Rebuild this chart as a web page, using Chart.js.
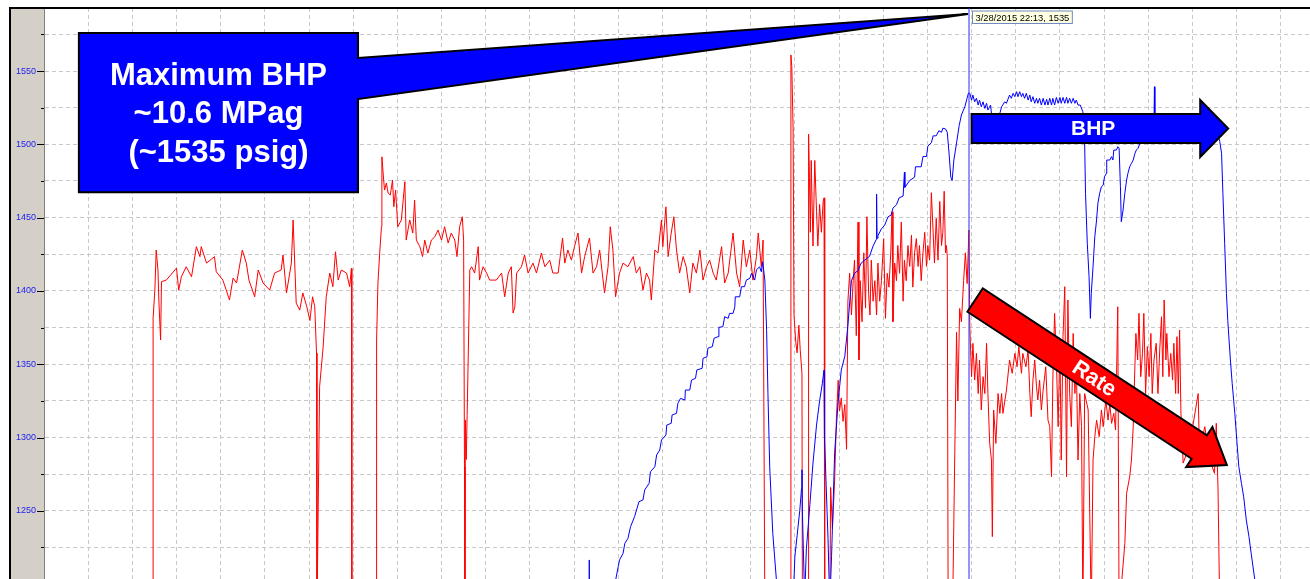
<!DOCTYPE html>
<html><head><meta charset="utf-8">
<script src="https://cdn.jsdelivr.net/npm/chart.js@4.4.0/dist/chart.umd.min.js"></script>
<style>html,body{margin:0;padding:0;background:#fff;overflow:hidden}canvas{display:block}</style>
</head><body>
<canvas id="c" width="1310" height="579"></canvas>
<script>
// ---- data (time in grid units, values in psig) ----
const yTickValues = [1225,1250,1275,1300,1325,1350,1375,1400,1425,1450,1475,1500,1525,1550,1575];
const xGridValues = [0,1,2,3,4,5,6,7,8,9,10,11,12,13,14,15,16,17,18,19,20,21,22,23,24,25,26,27,28];
const cursorTime = 20.935;
const cursorLabel = '3/28/2015 22:13, 1535';
const calloutLines = ['Maximum BHP', '~10.6 MPag', '(~1535 psig)'];
const bhpLabel = 'BHP';
const rateLabel = 'Rate';

const ratePoints = [
[2.47,1180],[2.47,1381.5],[2.51,1400.6],[2.54,1427.9],[2.58,1414.3],[2.60,1393.8],[2.64,1366.5],[2.66,1406.3],[2.77,1407.4],[3.00,1415.6],[3.05,1400.6],[3.11,1409.7],[3.22,1416.5],[3.34,1409.7],[3.45,1430.2],[3.53,1423.4],[3.56,1430.2],[3.68,1419.0],[3.86,1423.4],[3.90,1413.1],[4.05,1407.4],[4.20,1393.8],[4.28,1408.8],[4.36,1405.4],[4.49,1427.9],[4.58,1419.0],[4.64,1407.4],[4.77,1396.0],[4.85,1414.3],[4.96,1405.4],[5.11,1400.6],[5.22,1412.2],[5.37,1414.3],[5.41,1424.5],[5.49,1398.6],[5.60,1419.0],[5.64,1448.4],[5.71,1391.7],[5.79,1386.9],[5.86,1398.6],[5.95,1389.2],[6.02,1379.8],[6.08,1396.0],[6.13,1389.2],[6.17,1357.6],[6.18,1180],[6.24,1334.7],[6.32,1361.9],[6.39,1396.0],[6.47,1412.2],[6.54,1402.9],[6.60,1426.7],[6.66,1407.4],[6.73,1414.3],[6.85,1412.2],[6.92,1402.9],[6.96,1415.4],[6.97,1180],
[7.53,1180],[7.53,1366.5],[7.56,1405.4],[7.60,1425.8],[7.64,1443.8],[7.65,1491.5],[7.69,1475.6],[7.71,1468.8],[7.75,1473.6],[7.79,1466.8],[7.84,1465.4],[7.89,1475.6],[7.92,1457.4],[7.96,1468.8],[8.01,1443.8],[8.09,1448.4],[8.17,1474.5],[8.20,1434.7],[8.28,1448.4],[8.35,1439.5],[8.39,1462.0],[8.43,1434.7],[8.51,1430.2],[8.57,1423.4],[8.62,1434.7],[8.69,1425.8],[8.77,1434.7],[8.85,1437.0],[8.92,1441.5],[9.00,1434.7],[9.07,1443.8],[9.15,1432.7],[9.22,1439.5],[9.30,1434.7],[9.35,1423.4],[9.41,1443.8],[9.47,1450.6],[9.50,1434.7],[9.52,1280],[9.53,1180],[9.54,1312],[9.56,1285],[9.58,1315],
[9.64,1414.3],[9.68,1416.5],[9.75,1412.2],[9.83,1430.2],[9.86,1407.4],[9.94,1416.5],[10.02,1412.2],[10.09,1407.4],[10.24,1407.4],[10.36,1412.2],[10.43,1396.0],[10.51,1412.2],[10.58,1416.5],[10.62,1384.9],[10.66,1389.2],[10.70,1412.2],[10.81,1416.5],[10.88,1424.5],[10.96,1412.2],[11.07,1419.0],[11.15,1412.2],[11.26,1425.8],[11.34,1416.5],[11.45,1421.0],[11.52,1412.2],[11.64,1412.2],[11.74,1436.1],[11.79,1419.0],[11.86,1427.9],[11.94,1421.0],[12.01,1430.2],[12.09,1439.5],[12.17,1412.2],[12.24,1423.4],[12.35,1436.1],[12.43,1412.2],[12.51,1416.5],[12.58,1427.9],[12.69,1398.6],[12.77,1416.5],[12.82,1443.8],[12.88,1427.9],[12.94,1396.0],[13.03,1412.2],[13.11,1419.0],[13.22,1416.5],[13.34,1423.4],[13.41,1412.2],[13.49,1416.5],[13.56,1400.6],[13.64,1412.2],[13.71,1407.4],[13.75,1393.8],[13.83,1427.9],[13.90,1425.8],[13.98,1448.4],[14.01,1430.2],[14.08,1457.4],[14.13,1423.4],[14.20,1439.5],[14.26,1450.6],[14.32,1427.9],[14.39,1412.2],[14.47,1423.4],[14.54,1416.5],[14.62,1398.6],[14.69,1419.0],[14.77,1412.2],[14.85,1427.9],[14.92,1407.4],[15.00,1416.5],[15.07,1421.0],[15.15,1412.2],[15.22,1407.4],[15.34,1430.2],[15.41,1405.4],[15.49,1412.2],[15.60,1439.5],[15.68,1412.2],[15.75,1402.9],[15.83,1434.7],[15.90,1416.5],[15.98,1427.9],[16.05,1407.4],[16.13,1423.4],[16.17,1439.5],[16.24,1416.5],[16.28,1434.7],[16.32,1180],
[16.91,1180],[16.91,1561],[16.93,1553],[16.96,1510.5],[16.98,1383.6],[17.02,1365],[17.05,1357.8],[17.09,1376.6],[17.12,1360],[17.16,1343.7],[17.17,1180],[17.31,1180],[17.31,1507],[17.33,1477.6],[17.35,1440],[17.37,1489],[17.41,1430.6],[17.45,1489],[17.49,1454],[17.52,1430.6],[17.56,1459],[17.60,1440],[17.64,1461],[17.66,1463.5],[17.67,1346],[17.68,1180],[17.79,1180],[17.81,1266],[17.85,1238],[17.90,1271],[17.94,1313],[17.98,1339],[18.01,1318],[18.05,1327],[18.09,1311],[18.13,1322.5],[18.17,1292],[18.20,1393],
[18.24,1412],[18.28,1383.6],[18.32,1407],[18.35,1421],[18.39,1369.5],[18.43,1447],[18.45,1353],[18.48,1407],[18.52,1379],[18.56,1426],[18.60,1388.3],[18.63,1450.6],[18.67,1397.7],[18.70,1383.6],[18.73,1421],[18.77,1393],[18.81,1407],[18.85,1383.6],[18.88,1419],[18.92,1393],[18.96,1407],[19.01,1435.7],[19.05,1381.3],[19.09,1412],[19.13,1402.6],[19.17,1426],[19.20,1454],[19.22,1379],[19.26,1419],[19.30,1407],[19.33,1431],[19.37,1412],[19.41,1447],[19.45,1393],[19.48,1421],[19.52,1407],[19.56,1431],[19.60,1416.7],[19.64,1438],[19.67,1402.6],[19.71,1426],[19.75,1435.7],[19.79,1416.7],[19.82,1431],[19.86,1407],[19.90,1426],[19.94,1440],[19.98,1416.7],[20.01,1431],[20.05,1421],[20.09,1467],[20.13,1440],[20.16,1419],[20.20,1449.5],[20.24,1421],[20.28,1461],[20.32,1431],[20.35,1440],[20.38,1468],[20.41,1426],[20.43,1431],[20.45,1423.6],[20.47,1180],
[20.57,1180],[20.62,1289.7],[20.66,1371.8],[20.69,1325],[20.73,1388],[20.77,1379],[20.82,1407],[20.86,1426],[20.90,1405],[20.94,1441.5],[20.96,1375.6],[21.00,1341.5],[21.03,1364.3],[21.07,1339.2],[21.11,1357.4],[21.15,1330],[21.18,1352.9],[21.22,1318.8],[21.26,1341.5],[21.30,1330],[21.34,1364.3],[21.37,1330],[21.41,1296],[21.45,1284.7],[21.47,1232.4],[21.50,1318.8],[21.55,1296],[21.60,1330],[21.64,1316.5],[21.68,1330],[21.71,1316.5],[21.79,1332.4],[21.86,1352.9],[21.92,1343.8],[21.98,1357.4],[22.03,1348.3],[22.07,1362],[22.13,1343.8],[22.16,1357.4],[22.23,1348.3],[22.28,1359.7],[22.32,1330],[22.35,1314.2],[22.39,1339.2],[22.43,1352.9],[22.47,1334.7],[22.50,1325.6],[22.54,1339.2],[22.58,1318.8],[22.62,1332.4],[22.68,1348.3],[22.73,1311.9],[22.77,1307.4],[22.81,1273.3],[22.84,1339.2],[22.88,1384.7],[22.92,1352.9],[22.96,1307.4],[23.00,1364.3],[23.03,1284.7],[23.07,1368.8],[23.11,1402.9],[23.15,1273.3],[23.18,1393.8],[23.22,1330],[23.26,1307.4],[23.30,1371],[23.34,1330],[23.37,1352.9],[23.41,1284.7],[23.45,1330],[23.49,1307.4],[23.52,1180],[23.56,1330],[23.64,1318.8],[23.71,1180],[23.75,1284.7],[23.79,1300.6],[23.83,1311.9],[23.89,1300.6],[23.94,1318.8],[23.98,1307.4],[24.04,1325.6],[24.09,1311.9],[24.13,1323.3],[24.17,1309.7],[24.22,1316.5],[24.26,1305.1],[24.31,1389.2],[24.34,1180],
[24.47,1227.8],[24.51,1261.9],[24.58,1273.3],[24.62,1284.7],[24.66,1307.4],[24.68,1330],[24.72,1371],[24.76,1352.9],[24.79,1384.7],[24.83,1341.5],[24.87,1357.4],[24.90,1384.7],[24.94,1330],[24.98,1362],[25.02,1341.5],[25.06,1371],[25.09,1330],[25.13,1352.9],[25.18,1364.3],[25.22,1330],[25.26,1359.7],[25.30,1382.4],[25.33,1341.5],[25.36,1393.8],[25.40,1352.9],[25.42,1371],[25.47,1341.5],[25.51,1357.4],[25.55,1339.2],[25.58,1364.3],[25.62,1330],[25.65,1368.8],[25.68,1330],[25.71,1373.3],[25.74,1316.5],[25.79,1282.6],[25.94,1295],[26.13,1330],[26.16,1290],[26.28,1307.4],[26.39,1285],[26.50,1275.6],[26.54,1309.7],[26.58,1264.2],[26.62,1180]
];

const bhpPoints = [
[12.34,1180],[12.34,1216.5],[12.35,1180],[12.86,1190],[13.00,1211.9],[13.03,1216.5],[13.11,1221.0],[13.15,1227.8],[13.22,1231.2],[13.28,1239.2],[13.37,1246.0],[13.47,1256.2],[13.56,1257.4],[13.60,1264.2],[13.70,1268.8],[13.73,1276.7],[13.83,1280.1],[13.87,1288.1],[13.94,1291.5],[13.98,1298.3],[14.08,1301.7],[14.10,1308.5],[14.20,1309.7],[14.22,1315.4],[14.32,1316.5],[14.35,1323.3],[14.41,1326.7],[14.51,1325.6],[14.52,1332.4],[14.62,1332.4],[14.66,1339.2],[14.75,1340.4],[14.78,1346.1],[14.90,1347.2],[14.92,1354.0],[15.01,1355.1],[15.03,1360.9],[15.13,1362.0],[15.17,1367.7],[15.26,1368.8],[15.28,1375.2],[15.37,1375.6],[15.41,1382.4],[15.49,1381.3],[15.52,1384.7],[15.60,1384.7],[15.64,1389.2],[15.65,1396.0],[15.75,1396.0],[15.79,1402.9],[15.86,1402.9],[15.90,1407.4],[15.98,1408.6],[16.02,1412.0],[16.09,1407.4],[16.13,1414.3],[16.20,1416.5],[16.24,1413.1],[16.27,1419.9],[16.32,1407.4],
[16.36,1373],[16.39,1330],[16.43,1280],[16.50,1234.5],[16.58,1203.5],[16.62,1180],[16.95,1180],[17.00,1219],[17.05,1233],[17.11,1250],[17.15,1265],[17.16,1278],[17.17,1250],[17.22,1190],[17.26,1224],[17.34,1254.4],[17.41,1282.6],[17.49,1308.5],[17.56,1325],[17.62,1336.7],[17.66,1346],[17.67,1300],[17.75,1231],[17.79,1185],[17.83,1219],[17.90,1289.6],[17.98,1325],[18.05,1346],[18.13,1355.4],[18.20,1376.6],[18.28,1407],[18.35,1412],[18.43,1414],[18.50,1419],[18.58,1421],[18.69,1423.6],[18.77,1430.6],[18.84,1435],[18.85,1466],[18.86,1436],[18.88,1437.7],[18.96,1442.4],[19.03,1444.7],[19.11,1450.6],[19.18,1451.8],[19.22,1456.5],[19.30,1458.8],[19.36,1463.5],[19.45,1464.7],[19.48,1481],[19.49,1470.6],[19.60,1475.3],[19.71,1477.6],[19.73,1484.7],[19.86,1484.7],[19.90,1491.7],[19.98,1491.7],[20.01,1498.8],[20.09,1501.1],[20.13,1505.8],[20.20,1505.8],[20.26,1509.3],[20.32,1508.2],[20.35,1511],[20.41,1510.5],[20.45,1508.2],[20.49,1494],[20.53,1477.6],[20.56,1475.3],[20.60,1489.4],[20.66,1501],[20.72,1512.9],[20.77,1520],[20.85,1525.8],[20.90,1531.7],[20.93,1535],
[20.96,1534.8],[21.00,1530.2],[21.03,1533.6],[21.07,1529],[21.11,1531.4],[21.15,1526.8],[21.18,1530.2],[21.22,1525.6],[21.26,1529],[21.30,1524.5],[21.34,1528],[21.37,1523.4],[21.43,1526.8],[21.45,1521.1],[21.52,1518],[21.64,1521.1],[21.68,1525.6],[21.75,1529],[21.79,1528],[21.86,1533.6],[21.90,1531.4],[21.94,1534.8],[21.98,1532.5],[22.02,1535.9],[22.05,1532.5],[22.09,1535.9],[22.13,1532.5],[22.16,1534.8],[22.20,1531.4],[22.24,1534.8],[22.28,1530.2],[22.32,1533.6],[22.35,1529],[22.39,1532.5],[22.43,1528],[22.47,1531.4],[22.50,1528],[22.54,1531.4],[22.58,1526.8],[22.62,1531.4],[22.66,1526.8],[22.70,1530.7],[22.73,1526.8],[22.77,1531.4],[22.81,1526.8],[22.84,1531.4],[22.88,1526.8],[22.92,1532],[22.96,1528],[23.00,1532],[23.03,1528],[23.07,1532],[23.11,1528],[23.15,1532],[23.18,1528],[23.22,1531.4],[23.26,1528],[23.30,1531.4],[23.34,1528],[23.37,1530.2],[23.41,1526.8],[23.46,1526.8],[23.52,1522.2],[23.54,1512],
[23.56,1500.7],[23.58,1466.6],[23.62,1432.5],[23.66,1409.7],[23.69,1381.3],[23.71,1398.3],[23.75,1416.5],[23.79,1437],[23.83,1448.4],[23.86,1459.8],[23.90,1466.6],[23.94,1471.1],[23.98,1472.2],[24.01,1477.9],[24.05,1480.2],[24.06,1489.3],[24.13,1489.3],[24.17,1491.6],[24.20,1489.3],[24.22,1496.1],[24.28,1496.1],[24.31,1498.4],[24.34,1497.5],[24.37,1471.1],[24.39,1447.2],[24.43,1455.2],[24.47,1466.6],[24.51,1475.7],[24.54,1480.2],[24.58,1484.7],[24.62,1487],[24.66,1489.3],[24.70,1493.9],[24.73,1496.1],[24.77,1497.3],[24.81,1500.7],[24.92,1508],[25.03,1512],[25.13,1514],[25.14,1539.3],[25.15,1514],[25.37,1516],[25.71,1517],[26.16,1517],[26.50,1515],
[26.62,1501.8],[26.66,1493.9],[26.69,1466.6],[26.73,1432.5],[26.77,1398.3],[26.80,1380],[26.86,1352.9],[26.90,1337],[26.96,1316.5],[27.01,1296],[27.05,1280.1],[27.11,1268.8],[27.16,1259.6],[27.22,1243.7],[27.28,1232.4],[27.33,1221],[27.41,1203.5],[27.48,1180]
];

// ---- annotation geometry (data coordinates) and styles ----
const calloutBox = {t0:0.79, t1:7.11, vTop:1575.9, vBottom:1467.4, vPtrTop:1558.9, vPtrBottom:1530.9, vTip:1588.9};
const bhpArrow = {t0:21.0, v0:1510.8, t1:26.81, v1:1510.8, body:29, head:57, headLen:28, fill:'#0000ff', text:bhpLabel, font:'bold 21px "Liberation Sans", Arial, sans-serif'};
const rateArrow = {t0:21.08, v0:1393.8, t1:26.78, v1:1281.2, body:28, head:48, headLen:33, fill:'#ff0000', text:rateLabel, font:'bold 22px "Liberation Sans", Arial, sans-serif'};
const FONT = '"Liberation Sans", Arial, sans-serif';

function blockArrow(ctx, x1, y1, x2, y2, bw, hw, hl, fill) {
  const dx = x2 - x1, dy = y2 - y1, L = Math.hypot(dx, dy);
  const ux = dx / L, uy = dy / L, nx = -uy, ny = ux;
  const bx = x2 - ux * hl, by = y2 - uy * hl;
  const pts = [
    [x1 + nx * bw / 2, y1 + ny * bw / 2],
    [bx + nx * bw / 2, by + ny * bw / 2],
    [bx + nx * hw / 2, by + ny * hw / 2],
    [x2, y2],
    [bx - nx * hw / 2, by - ny * hw / 2],
    [bx - nx * bw / 2, by - ny * bw / 2],
    [x1 - nx * bw / 2, y1 - ny * bw / 2]
  ];
  ctx.beginPath();
  pts.forEach((p, i) => i ? ctx.lineTo(p[0], p[1]) : ctx.moveTo(p[0], p[1]));
  ctx.closePath();
  ctx.fillStyle = fill; ctx.fill();
  ctx.lineWidth = 2; ctx.strokeStyle = '#000'; ctx.lineJoin = 'miter'; ctx.stroke();
}

function drawArrowAnno(ctx, xs, ys, a) {
  const x1 = xs.getPixelForValue(a.t0), y1 = ys.getPixelForValue(a.v0);
  const x2 = xs.getPixelForValue(a.t1), y2 = ys.getPixelForValue(a.v1);
  blockArrow(ctx, x1, y1, x2, y2, a.body, a.head, a.headLen, a.fill);
  const f = 0.474;
  ctx.save();
  ctx.translate(x1 + (x2 - x1) * f, y1 + (y2 - y1) * f);
  ctx.rotate(Math.atan2(y2 - y1, x2 - x1));
  ctx.fillStyle = '#fff'; ctx.font = a.font; ctx.textAlign = 'center'; ctx.textBaseline = 'middle';
  ctx.fillText(a.text, 0, 1);
  ctx.restore();
}

const overlay = {
  id: 'overlay',
  beforeDraw(chart) {
    const {ctx} = chart; const ys = chart.scales.y; const a = chart.chartArea;
    ctx.save();
    ctx.fillStyle = '#ffffff'; ctx.fillRect(0, 0, chart.width, chart.height);
    ctx.fillStyle = '#d4d0c8'; ctx.fillRect(ys.left, a.top, ys.right - ys.left, chart.height - a.top);
    ctx.restore();
  },
  afterDraw(chart) {
    const {ctx} = chart; const xs = chart.scales.x, ys = chart.scales.y, a = chart.chartArea;
    ctx.save();
    // tick marks
    ctx.strokeStyle = '#000'; ctx.lineWidth = 1;
    yTickValues.forEach(v => {
      const y = Math.round(ys.getPixelForValue(v)) + 0.5;
      const len = v % 50 === 0 ? 7 : 3;
      ctx.beginPath(); ctx.moveTo(a.left - len, y); ctx.lineTo(a.left, y); ctx.stroke();
    });
    // frame
    ctx.fillStyle = '#000';
    ctx.fillRect(ys.left - 1, a.top - 1, chart.width, 2);
    ctx.fillRect(ys.left - 1, a.top - 1, 2, chart.height);
    // cursor
    const cx = Math.round(xs.getPixelForValue(cursorTime));
    ctx.strokeStyle = '#2a2aff'; ctx.lineWidth = 1;
    ctx.beginPath(); ctx.moveTo(cx, a.top); ctx.lineTo(cx, a.bottom); ctx.stroke();
    // callout
    const c = calloutBox;
    const bx1 = xs.getPixelForValue(c.t0), bx2 = xs.getPixelForValue(c.t1);
    const by1 = ys.getPixelForValue(c.vTop), by2 = ys.getPixelForValue(c.vBottom);
    const p1 = ys.getPixelForValue(c.vPtrTop), p2 = ys.getPixelForValue(c.vPtrBottom);
    const tipY = ys.getPixelForValue(c.vTip);
    ctx.beginPath();
    ctx.moveTo(bx1, by1); ctx.lineTo(bx2, by1); ctx.lineTo(bx2, p1);
    ctx.lineTo(cx - 1, tipY); ctx.lineTo(bx2, p2); ctx.lineTo(bx2, by2); ctx.lineTo(bx1, by2);
    ctx.closePath();
    ctx.fillStyle = '#0000ff'; ctx.fill();
    ctx.lineWidth = 2; ctx.strokeStyle = '#000'; ctx.lineJoin = 'miter'; ctx.stroke();
    ctx.fillStyle = '#fff'; ctx.font = 'bold 31px ' + FONT; ctx.textAlign = 'center'; ctx.textBaseline = 'alphabetic';
    calloutLines.forEach((t, i) => ctx.fillText(t, (bx1 + bx2) / 2, by1 + 52 + i * 38.4));
    // arrows
    drawArrowAnno(ctx, xs, ys, bhpArrow);
    drawArrowAnno(ctx, xs, ys, rateArrow);
    // cursor readout box
    ctx.font = '9.4px ' + FONT;
    const tw = ctx.measureText(cursorLabel).width;
    const tx = cx + 3, ty = a.top + 2.5;
    ctx.fillStyle = '#ffffe1'; ctx.fillRect(tx, ty, tw + 7, 13.5);
    ctx.strokeStyle = '#7088c8'; ctx.lineWidth = 1; ctx.strokeRect(tx + 0.5, ty + 0.5, tw + 6, 12.5);
    ctx.fillStyle = '#000'; ctx.textAlign = 'left'; ctx.textBaseline = 'alphabetic';
    ctx.fillText(cursorLabel, tx + 3.5, ty + 10.5);
    ctx.restore();
  }
};

new Chart(document.getElementById('c'), {
  type: 'line',
  data: {
    datasets: [
      { label: 'BHP', data: bhpPoints.map(p => ({x: p[0], y: p[1]})), borderColor: '#0000ff', borderWidth: 1, pointRadius: 0, tension: 0, order: 1 },
      { label: 'Rate', data: ratePoints.map(p => ({x: p[0], y: p[1]})), borderColor: '#ff0000', borderWidth: 1, pointRadius: 0, tension: 0, order: 2 }
    ]
  },
  options: {
    responsive: false, animation: false, devicePixelRatio: 1,
    layout: { padding: { left: 10, top: 8, right: 0, bottom: 0 } },
    plugins: { legend: { display: false }, tooltip: { enabled: false } },
    events: [],
    scales: {
      x: {
        type: 'linear', min: 0, max: 28.662, position: 'bottom',
        afterBuildTicks: s => { s.ticks = xGridValues.map(v => ({value: v})); },
        afterFit: s => { s.height = 0; s.paddingLeft = 0; s.paddingRight = 0; },
        ticks: { display: false },
        grid: { color: '#c8c8c8', drawTicks: false, lineWidth: 1 },
        border: { display: false, dash: [4, 3] }
      },
      y: {
        type: 'linear', min: 1203.5, max: 1593, position: 'left',
        afterBuildTicks: s => { s.ticks = yTickValues.map(v => ({value: v})); },
        afterFit: s => { s.width = 34; s.paddingTop = 0; s.paddingBottom = 0; },
        ticks: { color: '#2020f0', font: { family: FONT, size: 9 }, padding: 8, autoSkip: false,
                 callback: v => (v % 50 === 0 ? String(v) : '') },
        grid: { color: '#c8c8c8', drawTicks: false, lineWidth: 1 },
        border: { display: true, color: '#808080', width: 1, dash: [4, 3] }
      }
    }
  },
  plugins: [overlay]
});
</script>
</body></html>
